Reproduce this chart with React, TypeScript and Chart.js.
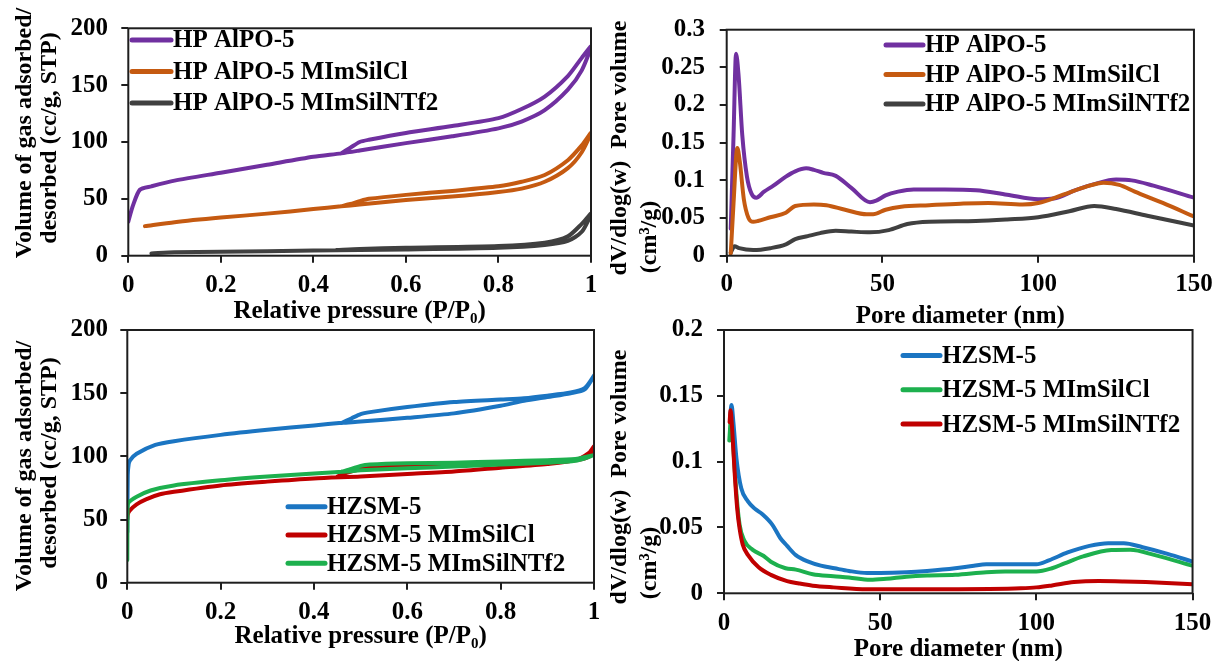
import React, { useEffect, useRef } from "react";
import { Chart, registerables } from "chart.js";

Chart.register(...registerables);

const FAMILY = "'Liberation Serif', 'Times New Roman', serif";
const CANVAS_W = 1220;
const CANVAS_H = 700;
const FRAME = "#1e1e1e";

// ================= Panel A: isotherms, HP AlPO-5 samples (adsorption then desorption) =================
const alpoNames = ["HP AlPO-5", "HP AlPO-5 MImSilCl", "HP AlPO-5 MImSilNTf2"];
const alpoColors = ["#7030A0", "#C55A11", "#404040"];
const alpoPureP = [0, 0.01, 0.025, 0.05, 0.1, 0.2, 0.3, 0.4, 0.46, 0.5, 0.6, 0.7, 0.8, 0.85, 0.9, 0.95, 0.98, 1.0, 0.98, 0.95, 0.9, 0.85, 0.8, 0.7, 0.6, 0.52, 0.5, 0.48, 0.46];
const alpoPureV = [30, 44, 58, 61, 66, 73, 80, 87, 90, 92.5, 99, 105, 112, 118, 128, 146, 163, 184, 174, 158, 140, 129, 121, 114, 108, 102, 100, 95, 90];
const alpoClP = [0.036, 0.1, 0.2, 0.3, 0.4, 0.46, 0.5, 0.6, 0.7, 0.8, 0.85, 0.9, 0.95, 0.98, 1.0, 0.98, 0.95, 0.9, 0.85, 0.8, 0.7, 0.6, 0.52, 0.5, 0.48, 0.46];
const alpoClV = [26, 29.5, 33.5, 37, 41, 43.5, 45, 49, 52, 56, 59, 65, 77, 91, 108, 97, 84, 71, 65, 61, 57, 53.5, 50, 48, 45.5, 43.5];
const alpoNtfP = [0.05, 0.1, 0.2, 0.4, 0.6, 0.8, 0.9, 0.95, 0.98, 1.0, 0.98, 0.95, 0.9, 0.8, 0.6, 0.5, 0.45];
const alpoNtfV = [2, 3, 3.5, 4.5, 5.5, 7, 9.5, 13, 21, 37, 28, 17, 11.5, 8.5, 7, 6, 5];

const isoXTicks = [0, 0.2, 0.4, 0.6, 0.8, 1];
const isoXTickLabels = ["0", "0.2", "0.4", "0.6", "0.8", "1"];
const isoYTicks = [0, 50, 100, 150, 200];
const isoYTickLabels = ["0", "50", "100", "150", "200"];

// ================= Panel B: pore size distribution, HP AlPO-5 samples =================
const alpoPoreD1 = [1.3, 2.2, 3, 3.8, 5, 6.5, 8, 9.5, 12, 15, 19, 22, 25.5, 28, 31, 35, 40, 46, 48, 51, 55, 60, 70, 80, 90, 100, 105, 112, 118, 125, 130, 137, 150];
const alpoPoreV1 = [0.036, 0.16, 0.268, 0.24, 0.16, 0.105, 0.082, 0.077, 0.085, 0.093, 0.105, 0.112, 0.116, 0.114, 0.11, 0.106, 0.09, 0.071, 0.073, 0.08, 0.085, 0.088, 0.088, 0.087, 0.081, 0.075, 0.076, 0.087, 0.095, 0.101, 0.1, 0.093, 0.077];
const alpoPoreD2 = [1.3, 2.2, 3.4, 4.2, 5.5, 7, 8.5, 10, 14, 19, 22, 28, 32, 38, 45, 47, 51, 56, 65, 75, 84, 95, 100, 108, 115, 121, 126, 131, 140, 150];
const alpoPoreV2 = [0.003, 0.07, 0.143, 0.125, 0.075, 0.05, 0.045, 0.046, 0.051, 0.057, 0.066, 0.068, 0.067, 0.061, 0.055, 0.055, 0.061, 0.065, 0.067, 0.069, 0.07, 0.068, 0.07, 0.081, 0.091, 0.097, 0.094, 0.085, 0.07, 0.052];
const alpoPoreD3 = [1.3, 2.5, 4, 8.5, 14, 19, 22, 26, 30, 35, 40, 46, 52, 58, 65, 80, 90, 100, 110, 118, 125, 135, 150];
const alpoPoreV3 = [0.004, 0.0126, 0.01, 0.0075, 0.01, 0.015, 0.022, 0.026, 0.03, 0.033, 0.032, 0.031, 0.034, 0.042, 0.045, 0.046, 0.048, 0.051, 0.059, 0.066, 0.062, 0.053, 0.04];

const poreXTicks = [0, 50, 100, 150];
const poreXTickLabels = ["0", "50", "100", "150"];
const alpoPoreYTicks = [0, 0.05, 0.1, 0.15, 0.2, 0.25, 0.3];
const alpoPoreYTickLabels = ["0", "0.05", "0.1", "0.15", "0.2", "0.25", "0.3"];

// ================= Panel C: isotherms, HZSM-5 samples =================
const zsmIsoNames = ["HZSM-5", "HZSM-5 MImSilCl", "HZSM-5 MImSilNTf2"];
const zsmIsoColors = ["#1B75C2", "#C00000", "#1DB04E"];
const zsmPureP = [0, 0.001, 0.003, 0.006, 0.02, 0.06, 0.1, 0.2, 0.3, 0.4, 0.46, 0.5, 0.6, 0.7, 0.8, 0.85, 0.9, 0.95, 0.98, 1.0, 0.98, 0.95, 0.9, 0.85, 0.8, 0.7, 0.6, 0.52, 0.5, 0.48, 0.46];
const zsmPureV = [40, 85, 94, 97, 102, 109, 112, 117, 121, 124.5, 126.5, 127.5, 130.5, 134, 140, 144, 147, 150, 153, 164, 154, 150.5, 148, 146, 145, 143, 139, 135, 133.5, 130, 126.5];
const zsmClP = [0, 0.001, 0.005, 0.02, 0.04, 0.07, 0.1, 0.2, 0.3, 0.4, 0.5, 0.6, 0.7, 0.8, 0.9, 0.96, 0.99, 1.0, 0.99, 0.96, 0.9, 0.8, 0.7, 0.6, 0.52, 0.5, 0.47, 0.45];
const zsmClV = [50, 54, 57, 62, 66, 70, 72, 77, 80, 82.5, 84, 86, 88, 91, 94, 97, 103, 108, 100, 97, 96, 95, 93.5, 92, 91, 90, 87, 84];
const zsmNtfP = [0, 0.0005, 0.002, 0.02, 0.05, 0.1, 0.2, 0.3, 0.4, 0.47, 0.5, 0.6, 0.7, 0.8, 0.9, 0.96, 1.0, 0.96, 0.9, 0.8, 0.7, 0.6, 0.52, 0.5, 0.48, 0.46];
const zsmNtfV = [18, 55, 63, 68, 73, 77, 81, 84, 86.5, 88, 89, 90.5, 92, 93.5, 95, 96.5, 101, 98, 97, 96, 95, 94.5, 93.5, 92.5, 90, 88];

// ================= Panel D: pore size distribution, HZSM-5 samples =================
const zsmPoreNames = ["HZSM-5", "HZSM-5 MImSilCl", "HZSM-5 MImSilNTf2"];
const zsmPoreColors = ["#1B75C2", "#1DB04E", "#C00000"];
const zsmPoreD1 = [2, 2.4, 3, 4, 5.5, 7.6, 10, 12.3, 15.5, 18, 20.2, 23, 27, 31, 35.4, 40, 45.8, 50, 58.4, 65, 74, 80, 84, 90, 100, 104, 110, 117, 123, 128, 134, 142, 150];
const zsmPoreV1 = [0.135, 0.143, 0.13, 0.102, 0.08, 0.07, 0.064, 0.06, 0.052, 0.042, 0.036, 0.029, 0.024, 0.021, 0.019, 0.017, 0.0155, 0.0155, 0.016, 0.017, 0.019, 0.021, 0.022, 0.022, 0.022, 0.025, 0.031, 0.036, 0.038, 0.038, 0.035, 0.03, 0.024];
const zsmPoreD2 = [1.7, 2.3, 3, 4, 5, 6.5, 9.2, 12.6, 15, 19.7, 23, 28.4, 35, 40, 46.8, 52, 58.4, 65, 74, 84, 90, 100, 105, 109, 115, 124, 130, 138, 150];
const zsmPoreV2 = [0.116, 0.135, 0.11, 0.075, 0.052, 0.04, 0.033, 0.0285, 0.024, 0.019, 0.018, 0.0145, 0.013, 0.012, 0.0102, 0.011, 0.0126, 0.0135, 0.014, 0.016, 0.0165, 0.0165, 0.019, 0.0227, 0.028, 0.0328, 0.033, 0.029, 0.021];
const zsmPoreD3 = [1.8, 2.1, 2.6, 3.4, 4.2, 5, 6, 7.7, 11, 15, 20.2, 24, 28.4, 35, 45.8, 55, 65, 75, 85, 95, 100, 105, 112, 120, 128, 135, 150];
const zsmPoreV3 = [0.13, 0.139, 0.125, 0.092, 0.065, 0.049, 0.037, 0.029, 0.02, 0.014, 0.0093, 0.0075, 0.0058, 0.0045, 0.003, 0.003, 0.003, 0.003, 0.0032, 0.0038, 0.0045, 0.006, 0.0085, 0.0093, 0.009, 0.0085, 0.0068];

const zsmPoreYTicks = [0, 0.05, 0.1, 0.15, 0.2];
const zsmPoreYTickLabels = ["0", "0.05", "0.1", "0.15", "0.2"];

const isoXTitle = "Relative pressure (P/P\u2080)";
const poreXTitle = "Pore diameter (nm)";
const isoYTitle = ["Volume of gas adsorbed/", "desorbed (cc/g, STP)"];
const poreYTitle = ["dV/dlog(w)  Pore volume", "(cm\u00B3/g)"];

// ================= layout / chart helpers =================
type Series = { label: string; color: string; xs: number[]; ys: number[] };
type Area = { left: number; top: number; right: number; bottom: number };
type TitleLine = { text: string; cx: number; cy: number };
type PanelSpec = {
  area: Area;
  xMin: number; xMax: number; xTicks: number[]; xTickLabels: string[];
  yMin: number; yMax: number; yTicks: number[]; yTickLabels: string[];
  xTitle: string;
  yTitle: TitleLine[];
  yLabelRight: number;
  xTickY: number;
  xTitleY: number;
  series: Series[];
  drawOrder: number[];
  mode: "loop" | "mono";
  legend: { x0: number; x1: number; y0: number; dy: number };
};

function mk(labels: string[], colors: string[], xs: number[][], ys: number[][]): Series[] {
  return labels.map((l, i) => ({ label: l, color: colors[i], xs: xs[i], ys: ys[i] }));
}

function buildConfig(p: PanelSpec): any {
  const tickLen = 7;
  const tickFont = { family: FAMILY, size: 25, weight: "bold", lineHeight: 1.2 };
  const titleFont = { family: FAMILY, size: 25, weight: "bold", lineHeight: 1.2 };
  const L0 = p.area.left - 100;
  const yWidth = p.area.left - L0;
  const yPad = p.area.left - tickLen - p.yLabelRight;
  const xPad = p.xTickY - p.area.bottom - tickLen - 15;
  const xBottom = p.xTitleY + 15;
  const xHeight = xBottom - p.area.bottom;

  const datasets = p.drawOrder.map((idx) => {
    const s = p.series[idx];
    return {
      label: s.label,
      data: s.xs.map((x, i) => ({ x, y: s.ys[i] })),
      borderColor: s.color,
      backgroundColor: s.color,
      borderWidth: 4,
      pointRadius: 0,
      showLine: true,
      fill: false,
      tension: p.mode === "loop" ? 0.25 : 0,
      cubicInterpolationMode: p.mode === "mono" ? "monotone" : "default",
      borderCapStyle: "round",
      borderJoinStyle: "round",
    };
  });

  const framePlugin = {
    id: "frame",
    afterDatasetsDraw(chart: any) {
      const { ctx, chartArea: a } = chart;
      ctx.save();
      ctx.strokeStyle = FRAME;
      ctx.lineWidth = 2;
      ctx.strokeRect(a.left, a.top, a.right - a.left, a.bottom - a.top);
      ctx.restore();
    },
  };

  const legendPlugin = {
    id: "insideLegend",
    afterDraw(chart: any) {
      const ctx = chart.ctx;
      ctx.save();
      ctx.font = `bold 25px ${FAMILY}`;
      ctx.textBaseline = "middle";
      ctx.textAlign = "left";
      p.series.forEach((s, i) => {
        const y = p.legend.y0 + i * p.legend.dy;
        ctx.strokeStyle = s.color;
        ctx.lineWidth = 5;
        ctx.lineCap = "round";
        ctx.beginPath();
        ctx.moveTo(p.legend.x0, y);
        ctx.lineTo(p.legend.x1, y);
        ctx.stroke();
        ctx.fillStyle = "#000";
        ctx.fillText(s.label, p.legend.x1 + 2, y + 1);
      });
      ctx.restore();
    },
  };

  const yTitlePlugin = {
    id: "yTitle",
    afterDraw(chart: any) {
      const ctx = chart.ctx;
      ctx.save();
      ctx.font = `bold 24px ${FAMILY}`;
      ctx.fillStyle = "#000";
      ctx.textAlign = "center";
      ctx.textBaseline = "middle";
      p.yTitle.forEach((t) => {
        ctx.save();
        ctx.translate(t.cx, t.cy);
        ctx.rotate(-Math.PI / 2);
        ctx.fillText(t.text, 0, 0);
        ctx.restore();
      });
      ctx.restore();
    },
  };

  return {
    type: "scatter",
    data: { datasets },
    options: {
      responsive: false,
      maintainAspectRatio: false,
      animation: false,
      events: [],
      layout: {
        padding: {
          left: L0,
          top: p.area.top,
          right: CANVAS_W - p.area.right,
          bottom: CANVAS_H - xBottom,
        },
      },
      plugins: { legend: { display: false }, tooltip: { enabled: false } },
      scales: {
        x: {
          type: "linear",
          min: p.xMin,
          max: p.xMax,
          afterBuildTicks: (s: any) => {
            s.ticks = p.xTicks.map((v) => ({ value: v }));
          },
          afterFit: (s: any) => {
            s.height = xHeight;
          },
          ticks: {
            font: tickFont,
            color: "#000",
            padding: xPad,
            maxRotation: 0,
            autoSkip: false,
            callback: (_v: any, i: number) => p.xTickLabels[i],
          },
          grid: { drawOnChartArea: false, drawTicks: true, tickLength: tickLen, color: FRAME, lineWidth: 2 },
          border: { display: false },
          title: { display: true, text: p.xTitle, font: titleFont, color: "#000", padding: 0 },
        },
        y: {
          type: "linear",
          min: p.yMin,
          max: p.yMax,
          afterBuildTicks: (s: any) => {
            s.ticks = p.yTicks.map((v) => ({ value: v }));
          },
          afterFit: (s: any) => {
            s.width = yWidth;
          },
          ticks: {
            font: tickFont,
            color: "#000",
            padding: yPad,
            autoSkip: false,
            callback: (_v: any, i: number) => p.yTickLabels[i],
          },
          grid: { drawOnChartArea: false, drawTicks: true, tickLength: tickLen, color: FRAME, lineWidth: 2 },
          border: { display: false },
        },
      },
    },
    plugins: [framePlugin, legendPlugin, yTitlePlugin],
  };
}

const panelA: PanelSpec = {
  area: { left: 128.3, top: 23.3, right: 591, bottom: 255.7 },
  xMin: 0, xMax: 1, xTicks: isoXTicks, xTickLabels: isoXTickLabels,
  yMin: 0, yMax: 200, yTicks: isoYTicks, yTickLabels: isoYTickLabels,
  xTitle: isoXTitle,
  yTitle: [
    { text: isoYTitle[0], cx: 25, cy: 133 },
    { text: isoYTitle[1], cx: 50, cy: 138 },
  ],
  yLabelRight: 108,
  xTickY: 285.5,
  xTitleY: 312,
  series: mk(alpoNames, alpoColors, [alpoPureP, alpoClP, alpoNtfP], [alpoPureV, alpoClV, alpoNtfV]),
  drawOrder: [0, 1, 2],
  mode: "loop",
  legend: { x0: 132, x1: 171, y0: 40, dy: 31.5 },
};

const panelB: PanelSpec = {
  area: { left: 726.7, top: 24.7, right: 1198, bottom: 255.7 },
  xMin: 0, xMax: 150, xTicks: poreXTicks, xTickLabels: poreXTickLabels,
  yMin: 0, yMax: 0.3, yTicks: alpoPoreYTicks, yTickLabels: alpoPoreYTickLabels,
  xTitle: poreXTitle,
  yTitle: [
    { text: poreYTitle[0], cx: 620, cy: 148 },
    { text: poreYTitle[1], cx: 650, cy: 237 },
  ],
  yLabelRight: 705,
  xTickY: 285,
  xTitleY: 317,
  series: mk(alpoNames, alpoColors, [alpoPoreD1, alpoPoreD2, alpoPoreD3], [alpoPoreV1, alpoPoreV2, alpoPoreV3]),
  drawOrder: [1, 0, 2],
  mode: "mono",
  legend: { x0: 886, x1: 923, y0: 45, dy: 29.5 },
};

const panelC: PanelSpec = {
  area: { left: 127.3, top: 330, right: 594, bottom: 582.7 },
  xMin: 0, xMax: 1, xTicks: isoXTicks, xTickLabels: isoXTickLabels,
  yMin: 0, yMax: 200, yTicks: isoYTicks, yTickLabels: isoYTickLabels,
  xTitle: isoXTitle,
  yTitle: [
    { text: isoYTitle[0], cx: 25, cy: 466 },
    { text: isoYTitle[1], cx: 50, cy: 463 },
  ],
  yLabelRight: 108,
  xTickY: 613,
  xTitleY: 637,
  series: mk(zsmIsoNames, zsmIsoColors, [zsmPureP, zsmClP, zsmNtfP], [zsmPureV, zsmClV, zsmNtfV]),
  drawOrder: [2, 1, 0],
  mode: "loop",
  legend: { x0: 288, x1: 325, y0: 506.7, dy: 28.3 },
};

const panelD: PanelSpec = {
  area: { left: 724, top: 330, right: 1201.7, bottom: 593.3 },
  xMin: 0, xMax: 150, xTicks: poreXTicks, xTickLabels: poreXTickLabels,
  yMin: 0, yMax: 0.2, yTicks: zsmPoreYTicks, yTickLabels: zsmPoreYTickLabels,
  xTitle: poreXTitle,
  yTitle: [
    { text: poreYTitle[0], cx: 620, cy: 477 },
    { text: poreYTitle[1], cx: 650, cy: 563 },
  ],
  yLabelRight: 703,
  xTickY: 624,
  xTitleY: 650,
  series: mk(zsmPoreNames, zsmPoreColors, [zsmPoreD1, zsmPoreD2, zsmPoreD3], [zsmPoreV1, zsmPoreV2, zsmPoreV3]),
  drawOrder: [2, 0, 1],
  mode: "mono",
  legend: { x0: 903, x1: 940, y0: 355.5, dy: 34.3 },
};

function Panel({ spec }: { spec: PanelSpec }) {
  const ref = useRef<HTMLCanvasElement | null>(null);
  useEffect(() => {
    if (!ref.current) return;
    const chart = new Chart(ref.current, buildConfig(spec));
    return () => chart.destroy();
  }, [spec]);
  return (
    <canvas
      ref={ref}
      width={CANVAS_W}
      height={CANVAS_H}
      style={{ position: "absolute", left: 0, top: 0, width: CANVAS_W, height: CANVAS_H }}
    />
  );
}

export default function App() {
  return (
    <div
      style={{
        position: "absolute",
        left: 0,
        top: 0,
        width: CANVAS_W,
        height: 661,
        overflow: "hidden",
        background: "#fff",
      }}
    >
      <Panel spec={panelA} />
      <Panel spec={panelB} />
      <Panel spec={panelC} />
      <Panel spec={panelD} />
    </div>
  );
}
